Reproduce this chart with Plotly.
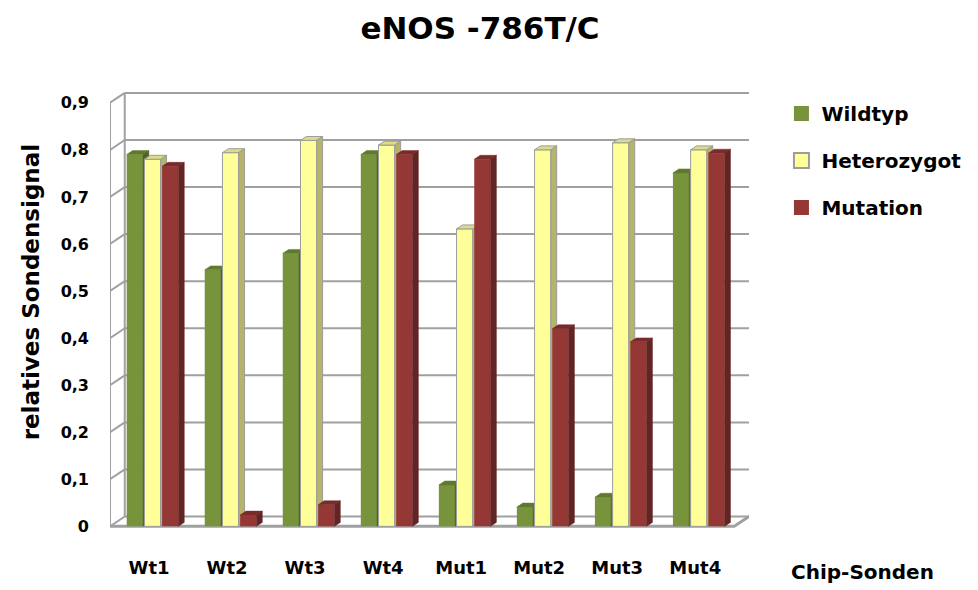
import plotly.graph_objects as go

# ---- data -------------------------------------------------------------
categories = ["Wt1", "Wt2", "Wt3", "Wt4", "Mut1", "Mut2", "Mut3", "Mut4"]
wildtyp = [0.79, 0.545, 0.58, 0.79, 0.088, 0.041, 0.062, 0.751]
heterozygot = [0.78, 0.794, 0.82, 0.81, 0.632, 0.80, 0.815, 0.80]
mutation = [0.765, 0.024, 0.046, 0.79, 0.78, 0.42, 0.392, 0.793]
series_names = ["Wildtyp", "Heterozygot", "Mutation"]
y_tick_values = [0, 0.1, 0.2, 0.3, 0.4, 0.5, 0.6, 0.7, 0.8, 0.9]
y_tick_labels = ["0", "0,1", "0,2", "0,3", "0,4", "0,5", "0,6", "0,7", "0,8", "0,9"]

# ---- geometry (pixels) --------------------------------------------------
W, H = 978, 590
PLOT_LEFT = 110          # front-left edge of the floor
FRONT_RIGHT = 745        # front-right edge of the floor
Y_ZERO_PX = 533          # front floor line
PX_PER_Y = 478           # pixels per 1.0 signal
WALL_DX_PX, WALL_DY_PX = 15, 10   # depth of the walls
BAR_DX_PX, BAR_DY_PX = 6, 4       # depth of a column

PX_PER_X = (FRONT_RIGHT - PLOT_LEFT) / len(categories)
WALL_DX = WALL_DX_PX / PX_PER_X
WALL_DY = WALL_DY_PX / PX_PER_Y
BAR_DX = BAR_DX_PX / PX_PER_X
BAR_DY = BAR_DY_PX / PX_PER_Y

X_MIN, X_MAX = -0.5, len(categories) - 0.5 + WALL_DX
Y_MIN, Y_MAX = -0.012, 0.925
plot_w = (X_MAX - X_MIN) * PX_PER_X
top_px = Y_ZERO_PX - Y_MAX * PX_PER_Y
bottom_px = Y_ZERO_PX - Y_MIN * PX_PER_Y
plot_h = bottom_px - top_px


def paper_x(px):
    return (px - PLOT_LEFT) / plot_w


def paper_y(py):
    return (bottom_px - py) / plot_h


BAR_W = 0.208
BAR_PITCH = 0.227
GROUP_SHIFT = 0.045

GRID = "#A0A0A0"
styles = [
    dict(front="#77933C", top="#5F7A2C", side="#4F6328", edge=None),
    dict(front="#FFFF99", top="#DCDC86", side="#B4B46A", edge="#9C9C9C"),
    dict(front="#953735", top="#7A2B29", side="#632523", edge=None),
]
FONT = "DejaVu Sans"

fig = go.Figure()

# ---- walls and floor (base subplot, behind the columns) ----------------
wx, wy = [], []
for v in y_tick_values:
    wx += [X_MIN + WALL_DX, X_MAX, None]
    wy += [v + WALL_DY, v + WALL_DY, None]
    wx += [X_MIN, X_MIN + WALL_DX, None]
    wy += [v, v + WALL_DY, None]
wx += [X_MIN + WALL_DX, X_MIN + WALL_DX, None]
wy += [WALL_DY, y_tick_values[-1] + WALL_DY, None]
wx += [X_MIN, X_MIN, None]
wy += [0, y_tick_values[-1], None]
fig.add_trace(go.Scatter(x=wx, y=wy, mode="lines", line=dict(color=GRID, width=2),
                         hoverinfo="skip", showlegend=False, xaxis="x", yaxis="y"))
front_right = len(categories) - 0.5
fig.add_trace(go.Scatter(x=[X_MIN, front_right, front_right + WALL_DX],
                         y=[0, 0, WALL_DY], mode="lines",
                         line=dict(color=GRID, width=3),
                         hoverinfo="skip", showlegend=False, xaxis="x", yaxis="y"))

# legend entries (square swatches)
for s, name in enumerate(series_names):
    st = styles[s]
    fig.add_trace(go.Scatter(
        x=[None], y=[None], mode="markers", name=name, legendgroup=name,
        marker=dict(symbol="square", size=15, color=st["front"],
                    line=dict(color=st["edge"] or st["front"], width=2 if st["edge"] else 0)),
        xaxis="x", yaxis="y", hoverinfo="skip"))

# ---- columns: one overlaid subplot per series, painted left to right ----
for s, (name, values) in enumerate(zip(series_names, [wildtyp, heterozygot, mutation])):
    st = styles[s]
    xa, ya = f"x{s + 2}", f"y{s + 2}"
    centers = [i + GROUP_SHIFT + (s - 1) * BAR_PITCH for i in range(len(categories))]
    edge = dict(color=st["edge"], width=1) if st["edge"] else dict(width=0)
    fig.add_trace(go.Bar(x=centers, y=values, width=BAR_W, name=name, showlegend=False,
                         marker=dict(color=st["front"], line=edge),
                         xaxis=xa, yaxis=ya, hovertemplate=name + ": %{y}<extra></extra>"))
    tx, ty, sx, sy = [], [], [], []
    for c, h in zip(centers, values):
        left, right = c - BAR_W / 2, c + BAR_W / 2
        tx += [left, left + BAR_DX, right + BAR_DX, right, left, None]
        ty += [h, h + BAR_DY, h + BAR_DY, h, h, None]
        sx += [right, right + BAR_DX, right + BAR_DX, right, right, None]
        sy += [0, BAR_DY, h + BAR_DY, h, 0, None]
    line_col = st["edge"]
    for px_, py_, col in [(tx, ty, st["top"]), (sx, sy, st["side"])]:
        fig.add_trace(go.Scatter(
            x=px_, y=py_, mode="lines", fill="toself", fillcolor=col,
            line=dict(color=line_col or col, width=1 if line_col else 0.5),
            hoverinfo="skip", showlegend=False, xaxis=xa, yaxis=ya))

# ---- axes ---------------------------------------------------------------
layout_axes = dict(
    xaxis=dict(range=[X_MIN, X_MAX], tickvals=list(range(len(categories))),
               ticktext=categories, showgrid=False, zeroline=False, showline=False,
               ticks="", tickfont=dict(family=FONT, size=18, color="black", weight="bold"),
               ticklabelstandoff=23, fixedrange=True),
    yaxis=dict(range=[Y_MIN, Y_MAX], tickvals=y_tick_values, ticktext=y_tick_labels,
               showgrid=False, zeroline=False, showline=False, ticks="",
               tickfont=dict(family=FONT, size=16, color="black", weight="bold"),
               ticklabelstandoff=20, fixedrange=True),
)
for k in range(2, 5):
    layout_axes[f"xaxis{k}"] = dict(overlaying="x", matches="x", range=[X_MIN, X_MAX],
                                    visible=False)
    layout_axes[f"yaxis{k}"] = dict(overlaying="y", matches="y", range=[Y_MIN, Y_MAX],
                                    visible=False)

fig.update_layout(
    width=W, height=H,
    margin=dict(l=PLOT_LEFT, r=W - PLOT_LEFT - plot_w, t=top_px, b=H - bottom_px, pad=0),
    paper_bgcolor="white", plot_bgcolor="white",
    barmode="overlay",
    title=dict(text="eNOS -786T/C", x=480 / W, xref="container", xanchor="center",
               y=1 - 28 / H, yref="container", yanchor="middle",
               font=dict(family=FONT, size=31, color="black", weight="bold")),
    legend=dict(x=paper_x(793), xanchor="left", y=paper_y(94), yanchor="top",
                traceorder="grouped", tracegroupgap=18, itemsizing="trace",
                font=dict(family=FONT, size=20, color="black", weight="bold"),
                bgcolor="rgba(0,0,0,0)", itemclick=False, itemdoubleclick=False),
    annotations=[
        dict(text="relatives Sondensignal", textangle=-90, xref="paper", yref="paper",
             x=paper_x(30), y=paper_y(295),
             xanchor="center", yanchor="middle", showarrow=False,
             font=dict(family=FONT, size=23, color="black", weight="bold")),
        dict(text="Chip-Sonden", xref="paper", yref="paper",
             x=paper_x(875), y=paper_y(579),
             xanchor="center", yanchor="middle", showarrow=False,
             font=dict(family=FONT, size=20, color="black", weight="bold")),
    ],
    **layout_axes,
)

fig.write_html("out.html")
